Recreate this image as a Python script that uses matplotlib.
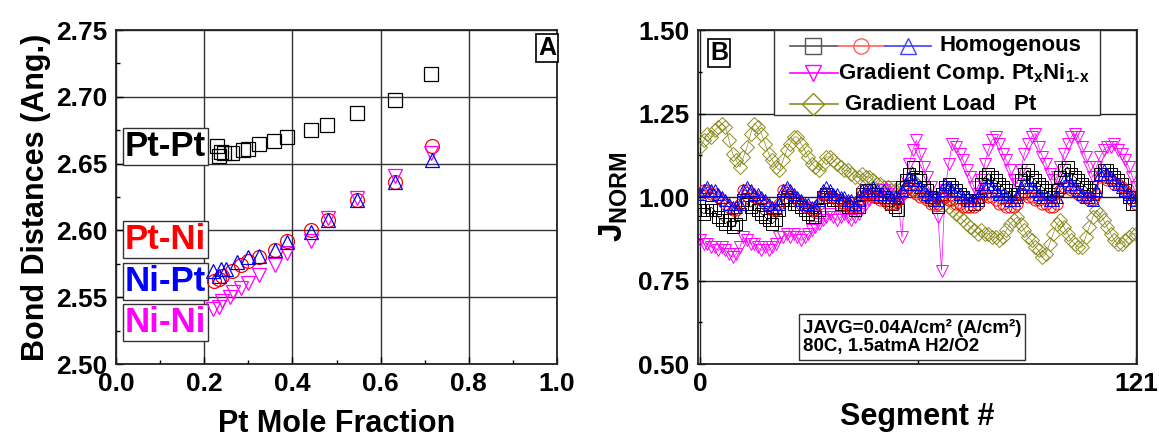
import numpy as np
import matplotlib
matplotlib.use('Agg')
from matplotlib import pyplot as plt
from matplotlib.lines import Line2D
from matplotlib.patches import Rectangle

plt.rcParams['font.family'] = ['Liberation Sans', 'DejaVu Sans']
plt.rcParams['font.weight'] = 'bold'
plt.rcParams['axes.labelweight'] = 'bold'
plt.rcParams['mathtext.fontset'] = 'custom'
plt.rcParams['mathtext.rm'] = 'Liberation Sans:bold'
plt.rcParams['mathtext.bf'] = 'Liberation Sans:bold'
plt.rcParams['mathtext.it'] = 'Liberation Sans:bold'
plt.rcParams['mathtext.default'] = 'bf'

# ---- panel A : bond distances ----
ptpt_x = [0.229, 0.234, 0.237, 0.245, 0.262, 0.287, 0.300, 0.325, 0.359, 0.387, 0.443, 0.479, 0.546, 0.632, 0.714]
ptpt_y = [2.663, 2.656, 2.659, 2.658, 2.658, 2.660, 2.661, 2.665, 2.667, 2.670, 2.675, 2.679, 2.688, 2.698, 2.717]

ptni_x = [0.223, 0.233, 0.241, 0.262, 0.283, 0.300, 0.325, 0.361, 0.387, 0.443, 0.481, 0.546, 0.632, 0.716]
ptni_y = [2.562, 2.564, 2.566, 2.570, 2.574, 2.577, 2.580, 2.585, 2.592, 2.600, 2.608, 2.623, 2.636, 2.663]

nipt_x = [0.220, 0.233, 0.237, 0.250, 0.275, 0.300, 0.325, 0.361, 0.387, 0.443, 0.481, 0.546, 0.632, 0.716]
nipt_y = [2.570, 2.566, 2.571, 2.571, 2.576, 2.580, 2.581, 2.585, 2.591, 2.599, 2.608, 2.623, 2.636, 2.653]

nini_x = [0.220, 0.233, 0.241, 0.258, 0.266, 0.283, 0.300, 0.325, 0.361, 0.387, 0.443, 0.481, 0.546, 0.632, 0.714]
nini_y = [2.541, 2.543, 2.547, 2.550, 2.554, 2.557, 2.561, 2.567, 2.574, 2.583, 2.592, 2.609, 2.624, 2.641, 2.658]

# ---- panel B : normalized current per segment ----
segment = np.arange(0, 122)

homo_black = [0.96, 0.95, 0.96, 0.97, 0.96, 0.94, 0.93, 0.92, 0.93, 0.91, 0.92, 0.95,
              0.99, 0.98, 0.97, 0.98, 0.96, 0.95, 0.94, 0.93, 0.92, 0.93, 0.96,
              0.99, 1.00, 0.99, 0.98, 0.98, 0.97, 0.96, 0.95, 0.94, 0.94, 0.96,
              1.00, 1.01, 1.00, 0.99, 0.99, 0.98, 0.98, 0.97, 0.97, 0.96, 0.97,
              1.01, 1.02, 1.02, 1.01, 1.01, 1.00, 1.00, 0.99, 0.98, 0.97, 0.96,
              1.03, 1.05, 1.07, 1.09, 1.06, 1.05, 1.03, 1.02, 1.00, 0.99, 0.97,
              1.01, 1.03, 1.04, 1.03, 1.02, 1.01, 1.00, 0.99, 0.99, 0.98, 0.99,
              1.04, 1.06, 1.07, 1.06, 1.05, 1.04, 1.03, 1.02, 1.01, 1.00, 1.01,
              1.05, 1.07, 1.08, 1.06, 1.05, 1.04, 1.03, 1.02, 1.01, 1.00, 1.02,
              1.06, 1.08, 1.09, 1.07, 1.06, 1.05, 1.04, 1.03, 1.02, 1.01, 1.03,
              1.07, 1.08, 1.08, 1.07, 1.06, 1.05, 1.04, 1.02, 1.00, 0.98, 0.98]

homo_red = [1.01, 1.02, 1.02, 1.01, 1.01, 1.00, 0.99, 0.98, 0.97, 0.96, 0.96, 0.98,
            1.02, 1.02, 1.01, 1.00, 1.00, 0.99, 0.98, 0.97, 0.96, 0.96, 0.98,
            1.02, 1.02, 1.01, 1.00, 0.99, 0.98, 0.97, 0.97, 0.96, 0.96, 0.98,
            1.01, 1.01, 1.00, 1.00, 0.99, 0.99, 0.98, 0.98, 0.97, 0.97, 0.99,
            1.02, 1.01, 1.01, 1.00, 1.00, 0.99, 0.99, 0.98, 0.98, 0.98, 0.99,
            1.01, 1.02, 1.03, 1.02, 1.01, 1.00, 1.00, 0.99, 0.98, 0.98, 0.98,
            1.00, 1.00, 0.99, 0.99, 0.98, 0.98, 0.97, 0.97, 0.97, 0.97, 0.98,
            1.00, 1.01, 1.00, 1.00, 0.99, 0.98, 0.98, 0.97, 0.97, 0.97, 0.98,
            1.01, 1.01, 1.00, 1.00, 0.99, 0.99, 0.98, 0.98, 0.97, 0.97, 0.98,
            1.02, 1.03, 1.03, 1.02, 1.02, 1.01, 1.00, 1.00, 0.99, 0.99, 1.01,
            1.06, 1.06, 1.05, 1.05, 1.04, 1.04, 1.03, 1.02, 1.01, 0.99, 0.98]

homo_blue = [1.01, 1.02, 1.03, 1.02, 1.02, 1.01, 1.00, 0.99, 0.98, 0.97, 0.97, 0.98,
             1.02, 1.03, 1.02, 1.01, 1.01, 1.00, 0.99, 0.98, 0.97, 0.97, 0.98,
             1.02, 1.03, 1.02, 1.01, 1.00, 0.99, 0.98, 0.98, 0.97, 0.97, 0.99,
             1.02, 1.03, 1.02, 1.01, 1.01, 1.00, 1.00, 0.99, 0.99, 0.98, 0.99,
             1.02, 1.02, 1.02, 1.03, 1.02, 1.01, 1.02, 1.01, 1.00, 1.00, 1.00,
             1.02, 1.04, 1.06, 1.05, 1.04, 1.03, 1.02, 1.01, 1.00, 1.00, 0.99,
             1.02, 1.04, 1.03, 1.02, 1.02, 1.01, 1.00, 1.00, 0.99, 0.99, 1.00,
             1.02, 1.03, 1.04, 1.03, 1.02, 1.01, 1.01, 1.00, 0.99, 0.99, 1.00,
             1.03, 1.04, 1.04, 1.03, 1.02, 1.01, 1.00, 1.00, 0.99, 0.99, 1.00,
             1.03, 1.05, 1.05, 1.04, 1.03, 1.02, 1.01, 1.00, 1.00, 0.99, 1.02,
             1.07, 1.08, 1.07, 1.06, 1.05, 1.04, 1.03, 1.02, 1.01, 1.00, 0.99]

grad_comp = [0.87, 0.86, 0.86, 0.85, 0.85, 0.84, 0.85, 0.84, 0.83, 0.82, 0.83, 0.85,
             0.88, 0.87, 0.86, 0.86, 0.85, 0.84, 0.85, 0.84, 0.85, 0.86, 0.88,
             0.88, 0.89, 0.88, 0.89, 0.88, 0.87, 0.88, 0.89, 0.90, 0.91, 0.92,
             0.93, 0.94, 0.95, 0.94, 0.93, 0.94, 0.95, 0.94, 0.93, 0.94, 0.95,
             0.97, 0.98, 0.99, 1.00, 1.01, 1.00, 1.02, 1.01, 1.03, 1.00, 0.98,
             0.88, 1.05, 1.10, 1.14, 1.17, 1.13, 1.09, 1.06, 1.03, 0.99, 0.94,
             0.78, 1.02, 1.10, 1.16, 1.15, 1.13, 1.11, 1.08, 1.06, 1.03, 1.01,
             1.05, 1.10, 1.14, 1.17, 1.18, 1.16, 1.13, 1.11, 1.08, 1.05, 1.04,
             1.08, 1.13, 1.16, 1.18, 1.19, 1.15, 1.12, 1.10, 1.07, 1.05, 1.06,
             1.09, 1.13, 1.16, 1.18, 1.19, 1.18, 1.15, 1.12, 1.09, 1.06, 1.09,
             1.12, 1.14, 1.15, 1.15, 1.16, 1.14, 1.13, 1.11, 1.09, 1.06, 1.03]

grad_load = [1.15, 1.17, 1.19, 1.18, 1.20, 1.21, 1.22, 1.21, 1.17, 1.13, 1.11, 1.09,
             1.12, 1.15, 1.19, 1.22, 1.21, 1.19, 1.16, 1.13, 1.11, 1.09, 1.08,
             1.11, 1.14, 1.16, 1.18, 1.18, 1.16, 1.14, 1.12, 1.10, 1.09, 1.08,
             1.10, 1.12, 1.12, 1.11, 1.10, 1.09, 1.08, 1.08, 1.07, 1.06, 1.06,
             1.07, 1.06, 1.06, 1.05, 1.04, 1.04, 1.03, 1.03, 1.02, 1.02, 1.01,
             1.03, 1.04, 1.03, 1.02, 1.02, 1.01, 1.01, 1.00, 1.00, 0.99, 0.98,
             0.99, 0.98, 0.97, 0.96, 0.95, 0.94, 0.93, 0.92, 0.91, 0.90, 0.89,
             0.90, 0.89, 0.89, 0.88, 0.88, 0.87, 0.88, 0.90, 0.92, 0.93, 0.94,
             0.92, 0.90, 0.88, 0.87, 0.85, 0.84, 0.82, 0.83, 0.86, 0.89, 0.92, 0.93,
             0.91, 0.89, 0.87, 0.86, 0.85, 0.85, 0.88, 0.91, 0.94, 0.96, 0.95,
             0.93, 0.91, 0.89, 0.87, 0.86, 0.86, 0.87, 0.88, 0.89, 0.89]

olive = '#8c8c1e'
magenta = '#ff00ff'

fig = plt.figure(figsize=(11.59, 4.40), dpi=100)
ax1 = fig.add_axes([0.1001, 0.1727, 0.3805, 0.759])
ax2 = fig.add_axes([0.6023, 0.1727, 0.3788, 0.759])

# ---------------- panel A ----------------
mk = dict(linestyle='none', markersize=10, markerfacecolor='none', markeredgewidth=0.9)
ax1.plot(ptpt_x, ptpt_y, marker='s', color='black', **mk)
ax1.plot(ptni_x, ptni_y, marker='o', color='red', **mk)
ax1.plot(nini_x, nini_y, marker='v', color=magenta, **mk)
ax1.plot(nipt_x, nipt_y, marker='^', color='blue', **mk)

ax1.set_xlim(0, 1.0)
ax1.set_ylim(2.50, 2.75)
ax1.set_xticks([0.0, 0.2, 0.4, 0.6, 0.8, 1.0])
ax1.set_xticks([0.1, 0.3, 0.5, 0.7, 0.9], minor=True)
ax1.set_yticks([2.50, 2.55, 2.60, 2.65, 2.70, 2.75])
ax1.set_yticks([2.525, 2.575, 2.625, 2.675, 2.725], minor=True)
ax1.set_xticklabels(['0.0', '0.2', '0.4', '0.6', '0.8', '1.0'])
ax1.set_yticklabels(['2.50', '2.55', '2.60', '2.65', '2.70', '2.75'])
ax1.grid(True, which='major', color='#333333', linewidth=1.0)
ax1.set_xlabel('Pt Mole Fraction', fontsize=22, fontweight='bold', labelpad=9)
ax1.set_ylabel('Bond Distances (Ang.)', fontsize=22, fontweight='bold', labelpad=4)

box = dict(facecolor='white', edgecolor='#333333', linewidth=1.0, pad=1.5)
ax1.text(0.02, 2.663, 'Pt-Pt', color='black', fontsize=25, va='center', ha='left', bbox=box, zorder=1)
ax1.text(0.02, 2.593, 'Pt-Ni', color='red', fontsize=25, va='center', ha='left', bbox=box, zorder=1)
ax1.text(0.02, 2.562, 'Ni-Pt', color='blue', fontsize=25, va='center', ha='left', bbox=box, zorder=1)
ax1.text(0.02, 2.531, 'Ni-Ni', color=magenta, fontsize=25, va='center', ha='left', bbox=box, zorder=1)
ax1.text(0.978, 0.945, 'A', transform=ax1.transAxes, fontsize=18, ha='center', va='center',
         bbox=dict(facecolor='white', edgecolor='black', linewidth=1.2, pad=1.5))

# ---------------- panel B ----------------
lk = dict(markersize=8, markerfacecolor='none', markeredgewidth=0.7, linewidth=0.5)
ax2.plot(segment, grad_load, marker='D', color=olive, markersize=7.5, markerfacecolor='none',
         markeredgewidth=0.7, linewidth=0.5)
ax2.plot(segment, grad_comp, marker='v', color=magenta, **lk)
ax2.plot(segment, homo_black, marker='s', color='black', **lk)
ax2.plot(segment, homo_red, marker='o', color='red', **lk)
ax2.plot(segment, homo_blue, marker='^', color='blue', **lk)

ax2.set_xlim(-0.6, 121.3)
ax2.set_ylim(0.50, 1.50)
ax2.set_xticks([0, 121])
ax2.set_xticks([60.5], minor=True)
ax2.set_yticks([0.50, 0.75, 1.00, 1.25, 1.50])
ax2.set_yticks([0.625, 0.875, 1.125, 1.375], minor=True)
ax2.set_yticklabels(['0.50', '0.75', '1.00', '1.25', '1.50'])
ax2.grid(True, which='major', color='#222222', linewidth=1.0)
ax2.set_xlabel('Segment #', fontsize=22, fontweight='bold', labelpad=4)
ax2.set_ylabel(r'J$_{\mathbf{NORM}}$', fontsize=24, fontweight='bold', labelpad=6)

ax2.text(0.048, 0.93, 'B', transform=ax2.transAxes, fontsize=18, ha='center', va='center',
         bbox=dict(facecolor='white', edgecolor='black', linewidth=1.2, pad=1.5))

# hand-built legend (handles of different lengths)
T = ax2.transAxes
ax2.add_patch(Rectangle((0.173, 0.745), 0.743, 0.255, transform=T, facecolor='white',
                        edgecolor='#333333', linewidth=1.0, zorder=5))
def seg(x0, x1, y, c, m=None, mx=None):
    ax2.add_line(Line2D([x0, x1], [y, y], transform=T, color=c, linewidth=1.2, zorder=6))
    if m is not None:
        ax2.add_line(Line2D([mx], [y], transform=T, color=c, marker=m, markersize=11,
                            markerfacecolor='none', markeredgewidth=1.0, zorder=7))
seg(0.209, 0.319, 0.953, '#555555', 's', 0.262)
seg(0.319, 0.425, 0.953, '#ff6060', 'o', 0.371)
seg(0.425, 0.531, 0.953, '#4040ff', '^', 0.478)
seg(0.209, 0.319, 0.870, magenta, 'v', 0.262)
seg(0.209, 0.319, 0.778, olive, 'D', 0.262)
ax2.text(0.55, 0.953, 'Homogenous', transform=T, fontsize=16, va='center', zorder=8)
ax2.text(0.319, 0.870, r'Gradient Comp. Pt$_{x}$Ni$_{1\text{-}x}$', transform=T, fontsize=16,
         va='center', zorder=8)
ax2.text(0.335, 0.778, 'Gradient Load   Pt', transform=T, fontsize=16, va='center', zorder=8)

ax2.text(0.239, 0.081, 'JAVG=0.04A/cm\u00b2 (A/cm\u00b2)\n80C, 1.5atmA H2/O2', transform=T,
         fontsize=13.5, va='center', ha='left', linespacing=1.15, zorder=8,
         bbox=dict(facecolor='white', edgecolor='#333333', linewidth=1.0, pad=3))

for ax in (ax1, ax2):
    ax.tick_params(which='both', direction='in', labelsize=19, width=1.0)
    ax.tick_params(which='major', length=5, pad=6)
    ax.tick_params(which='minor', length=3)
    for s in ax.spines.values():
        s.set_linewidth(1.3)
        s.set_color('#222222')
    ax.set_axisbelow(True)

fig.savefig('out.png', dpi=100)
